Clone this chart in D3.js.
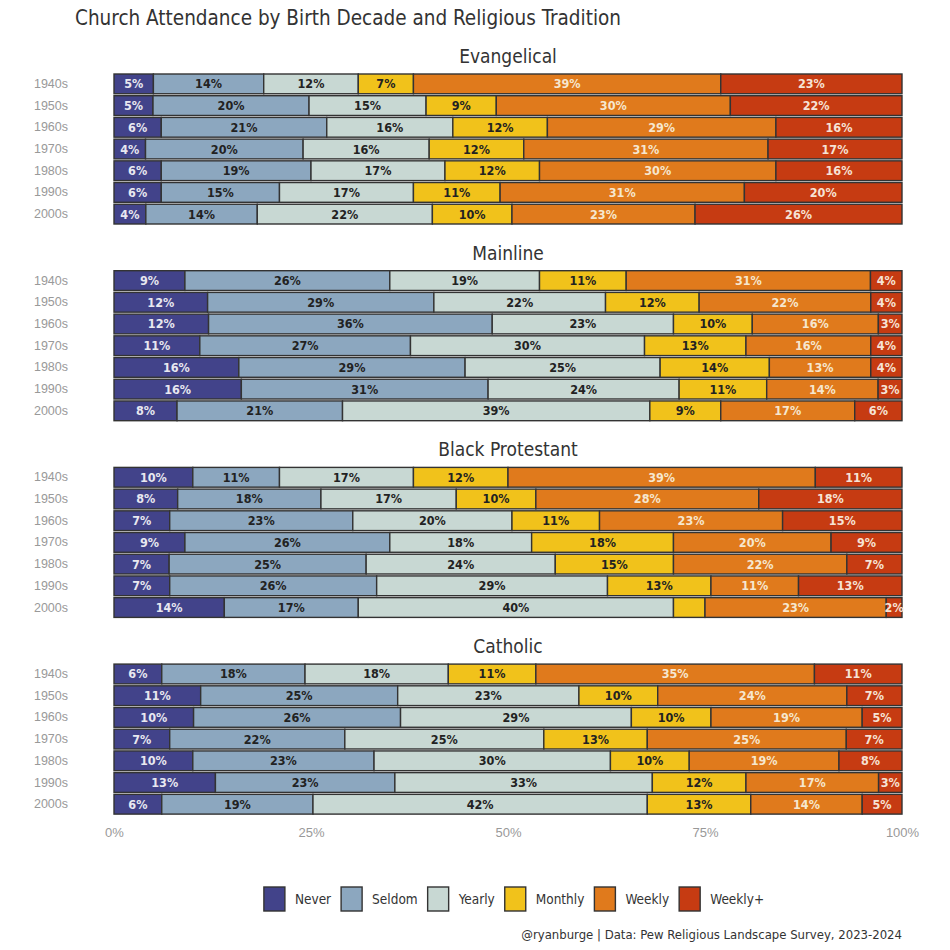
<!DOCTYPE html>
<html>
<head>
<meta charset="utf-8">
<script src="https://cdn.jsdelivr.net/npm/d3@7"></script>
<style>
  body { margin: 0; background: #fff; }
  svg { font-family: "Liberation Sans Narrow", "DejaVu Sans Condensed", "Roboto", sans-serif; }
</style>
</head>
<body>
<script>
let width = 950,
  height = 950,
  left = 114,
  right = 902,
  panelHeight = 150,
  panelGap = 196.7,
  firstTop = 74

const decades = ["1940s", "1950s", "1960s", "1970s", "1980s", "1990s", "2000s"]
const categories = ["Never", "Seldom", "Yearly", "Monthly", "Weekly", "Weekly+"]
const traditions = ["Evangelical", "Mainline", "Black Protestant", "Catholic"]
const colors = ["#42438a", "#8ca7bf", "#c8d8d3", "#f1c21b", "#e07a1c", "#c63b12"]
const labelColors = ["#e8e8f0", "#222", "#222", "#222", "#f6e7cf", "#f6e3d6"]

// rows = decades, columns = categories (as labelled on the chart)
const evangelical = [
  [5, 14, 12, 7, 39, 23],
  [5, 20, 15, 9, 30, 22],
  [6, 21, 16, 12, 29, 16],
  [4, 20, 16, 12, 31, 17],
  [6, 19, 17, 12, 30, 16],
  [6, 15, 17, 11, 31, 20],
  [4, 14, 22, 10, 23, 26]
]
const mainline = [
  [9, 26, 19, 11, 31, 4],
  [12, 29, 22, 12, 22, 4],
  [12, 36, 23, 10, 16, 3],
  [11, 27, 30, 13, 16, 4],
  [16, 29, 25, 14, 13, 4],
  [16, 31, 24, 11, 14, 3],
  [8, 21, 39, 9, 17, 6]
]
const blackProtestant = [
  [10, 11, 17, 12, 39, 11],
  [8, 18, 17, 10, 28, 18],
  [7, 23, 20, 11, 23, 15],
  [9, 26, 18, 18, 20, 9],
  [7, 25, 24, 15, 22, 7],
  [7, 26, 29, 13, 11, 13],
  [14, 17, 40, 4, 23, 2]
]
const catholic = [
  [6, 18, 18, 11, 35, 11],
  [11, 25, 23, 10, 24, 7],
  [10, 26, 29, 10, 19, 5],
  [7, 22, 25, 13, 25, 7],
  [10, 23, 30, 10, 19, 8],
  [13, 23, 33, 12, 17, 3],
  [6, 19, 42, 13, 14, 5]
]
// the one segment that has no label in the original
const hiddenLabels = ["Black Protestant|2000s|Monthly"]

const xTicks = [0, 0.25, 0.5, 0.75, 1]
const xTickLabels = ["0%", "25%", "50%", "75%", "100%"]

let svg = d3.select('body').append('svg')
  .attr("width", width)
  .attr("height", height)

let x = d3.scaleLinear().domain([0, 1]).range([left, right])
let color = d3.scaleOrdinal().domain(categories).range(colors)
let labelColor = d3.scaleOrdinal().domain(categories).range(labelColors)

svg.append("text")
  .attr("x", 75)
  .attr("y", 25)
  .attr("font-size", 20.5)
  .attr("fill", "#333")
  .text("Church Attendance by Birth Decade and Religious Tradition")

let stack = d3.stack()
  .keys(d3.range(categories.length))
  .offset(d3.stackOffsetExpand)

let panelData = [evangelical, mainline, blackProtestant, catholic]

traditions.forEach((name, i) => {
  let top = firstTop + i * panelGap
  let y = d3.scaleBand()
    .domain(decades)
    .range([top, top + panelHeight])
    .paddingInner(0.09)

  let panel = svg.append("g").attr("class", "panel")

  panel.append("text")
    .attr("x", (left + right) / 2)
    .attr("y", top - 11)
    .attr("text-anchor", "middle")
    .attr("font-size", 19)
    .attr("fill", "#333")
    .text(name)

  panel.append("g")
    .attr("transform", `translate(68,0)`)
    .call(d3.axisLeft(y).tickSize(0).tickPadding(0))
    .call(g => g.select(".domain").remove())
    .selectAll("text")
    .attr("font-family", null)
    .attr("font-size", 12.5)
    .attr("fill", "#999")

  let rows = panelData[i].map((r, j) => Object.assign({ decade: decades[j] }, r))
  let series = stack(rows)

  let layer = panel.selectAll(".layer")
    .data(series)
    .enter().append("g")
    .attr("class", "layer")

  layer.selectAll("rect")
    .data(d => d.map(s => ({ s: s, key: d.key })))
    .enter().append("rect")
    .attr("x", d => x(d.s[0]))
    .attr("y", d => y(d.s.data.decade))
    .attr("width", d => x(d.s[1]) - x(d.s[0]))
    .attr("height", y.bandwidth())
    .attr("fill", d => color(categories[d.key]))
    .attr("stroke", "#333")
    .attr("stroke-width", 1.4)

  layer.selectAll("text")
    .data(d => d.map(s => ({ s: s, key: d.key })))
    .enter().append("text")
    .filter(d => !hiddenLabels.includes(`${name}|${d.s.data.decade}|${categories[d.key]}`))
    .attr("x", d => (x(d.s[0]) + x(d.s[1])) / 2)
    .attr("y", d => y(d.s.data.decade) + y.bandwidth() / 2)
    .attr("dy", "0.36em")
    .attr("text-anchor", "middle")
    .attr("font-size", 12.5)
    .attr("font-weight", 700)
    .attr("fill", d => labelColor(categories[d.key]))
    .text(d => d.s.data[d.key] + "%")
})

// x axis under the last panel
svg.append("g")
  .attr("transform", `translate(0,${firstTop + 3 * panelGap + panelHeight + 2})`)
  .call(d3.axisBottom(x).tickValues(xTicks).tickFormat((d, k) => xTickLabels[k]).tickSize(0).tickPadding(12))
  .call(g => g.select(".domain").remove())
  .selectAll("text")
  .attr("font-family", null)
  .attr("font-size", 13)
  .attr("fill", "#999")

// legend
let legend = svg.append("g").attr("class", "legend")
let lx = 0
categories.forEach((c, k) => {
  let item = legend.append("g").attr("transform", `translate(${lx},0)`)
  item.append("rect")
    .attr("width", 21)
    .attr("height", 24)
    .attr("fill", color(c))
    .attr("stroke", "#333")
    .attr("stroke-width", 1.4)
  let t = item.append("text")
    .attr("x", 31)
    .attr("y", 12)
    .attr("dy", "0.36em")
    .attr("font-size", 13.5)
    .attr("fill", "#333")
    .text(c)
  lx += 31 + t.node().getComputedTextLength() + 10
})
legend.attr("transform", `translate(${514 - (lx - 10) / 2},887)`)

svg.append("text")
  .attr("x", right)
  .attr("y", 939)
  .attr("text-anchor", "end")
  .attr("font-size", 13)
  .attr("fill", "#333")
  .text("@ryanburge | Data: Pew Religious Landscape Survey, 2023-2024")
</script>
</body>
</html>
